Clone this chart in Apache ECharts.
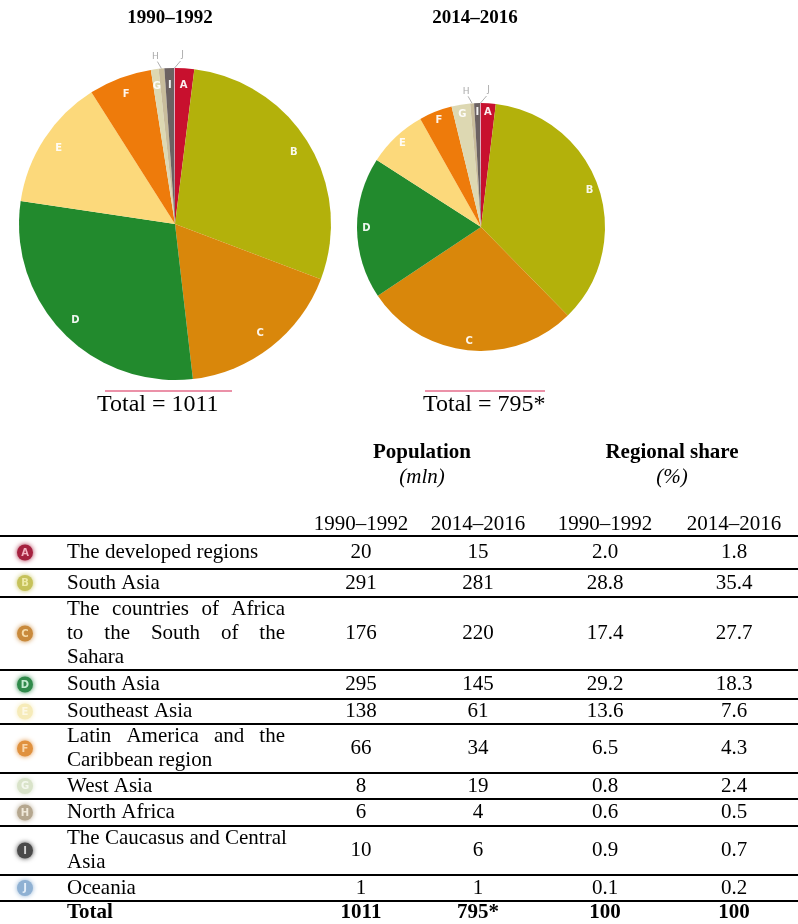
<!DOCTYPE html>
<html>
<head>
<meta charset="utf-8">
<script src="https://cdn.jsdelivr.net/npm/echarts@6/dist/echarts.min.js"></script>
<style>
  html, body { margin: 0; padding: 0; background: #fff; }
  #main { width: 798px; height: 924px; }
</style>
</head>
<body>
<div id="main"></div>
<script>
// data
const letters = ['A', 'B', 'C', 'D', 'E', 'F', 'G', 'H', 'I', 'J'];
const regions = [
  'The developed regions',
  'South Asia',
  'The countries of Africa\nto the South of the\nSahara',
  'South Asia',
  'Southeast Asia',
  'Latin America and the\nCaribbean region',
  'West Asia',
  'North Africa',
  'The Caucasus and Central\nAsia',
  'Oceania'
];
const pop1990 = [20, 291, 176, 295, 138, 66, 8, 6, 10, 1];
const pop2014 = [15, 281, 220, 145, 61, 34, 19, 4, 6, 1];
const share1990 = ['2.0', '28.8', '17.4', '29.2', '13.6', '6.5', '0.8', '0.6', '0.9', '0.1'];
const share2014 = ['1.8', '35.4', '27.7', '18.3', '7.6', '4.3', '2.4', '0.5', '0.7', '0.2'];
const periods = ['1990–1992', '2014–2016'];
const pieTotals = ['Total = 1011', 'Total = 795*'];
const totalRow = ['1011', '795*', '100', '100'];

const sliceColors = ['#c8102e', '#b3b10b', '#d9870b', '#228a2d', '#fcd97b', '#ee7b0b', '#ddd8b2', '#c9bd9c', '#6c6262', '#e2a3bd'];
const iconColors = ['#a5213f', '#c6c25a', '#c98a3c', '#2f8a4a', '#f6ebb9', '#e0913e', '#d9e3c9', '#b5a78f', '#4a4a4a', '#8fb1d3'];
const iconInk = ['#f4b0c0', '#eeeaa8', '#f6dcaa', '#c4ecd0', '#fdf8e4', '#f9d6aa', '#f4f8ee', '#efe8d8', '#d6d6d6', '#e6f0fa'];

const SERIF = '"Liberation Serif", "Times New Roman", serif';
const chart = echarts.init(document.getElementById('main'));

const ctx = document.createElement('canvas').getContext('2d');
function textWidth(s, font) { ctx.font = font; return ctx.measureText(s).width; }
function font(size, weight, style) {
  return (style || 'normal') + ' ' + (weight || 'normal') + ' ' + size + 'px ' + SERIF;
}
function txt(x, y, text, f, align, color) {
  return {
    type: 'text', x: x, y: y, silent: true,
    style: {
      text: text, font: f, fill: color || '#000',
      align: align || 'center', verticalAlign: 'middle',
      textAlign: align || 'center', textVerticalAlign: 'middle'
    }
  };
}

// callout offsets for the two thin slices H and J (label centre, line end)
const callouts = { 7: { label: [-6, -12], line: [-4, -7] }, 9: { label: [8, -13], line: [6, -7] } };

// pies
function pieSeries(values, center, r, labelRatio) {
  const fill = values.map((v, i) => ({ name: letters[i], value: v, itemStyle: { color: sliceColors[i] } }));
  const labels = values.map((v, i) => {
    const item = { name: letters[i], value: v };
    if (callouts[i]) {
      item.label = { position: 'outside', color: '#a9a9a9', fontWeight: 'normal', fontSize: 9 };
      item.labelLine = { show: true, length: 11, length2: 0, lineStyle: { color: '#b0b0b0', width: 1 } };
    }
    return item;
  });
  return [
    {
      type: 'pie', center: center, radius: [0, r], startAngle: 90, clockwise: true,
      silent: true, animation: false, label: { show: false }, labelLine: { show: false },
      itemStyle: { borderWidth: 0 }, data: fill
    },
    {
      type: 'pie', center: center, radius: [r * labelRatio, r], startAngle: 90, clockwise: true,
      silent: true, animation: false, avoidLabelOverlap: false,
      itemStyle: { color: 'rgba(0,0,0,0)' },
      label: {
        show: true, position: 'inside', color: 'rgba(255,255,255,0.92)',
        fontFamily: '"DejaVu Sans", sans-serif', fontSize: 10, fontWeight: 'bold',
        formatter: p => p.name
      },
      labelLine: { show: false },
      labelLayout: function (p) {
        const c = callouts[p.dataIndex];
        if (!c || !p.labelLinePoints) return;
        const p0 = p.labelLinePoints[0];
        const end = [p0[0] + c.line[0], p0[1] + c.line[1]];
        return {
          x: p0[0] + c.label[0], y: p0[1] + c.label[1],
          align: 'center', verticalAlign: 'middle',
          labelLinePoints: [p0, end, end]
        };
      },
      data: labels
    }
  ];
}

// table
const rowEdges = [536, 569, 597, 670, 699, 724, 773, 799, 826, 875, 901];
const colX = [361, 478, 605, 734];
const labelX = 67, labelRight = 285, lineH = 24;
const cellFont = font(21);
const boldFont = font(21, 'bold');

const g = [];
// pie titles and totals
g.push(txt(170, 18, periods[0], font(19, 'bold')));
g.push(txt(475, 18, periods[1], font(19, 'bold')));
g.push({ type: 'line', silent: true, shape: { x1: 105, y1: 391, x2: 232, y2: 391 }, style: { stroke: '#e46d8b', lineWidth: 1.5 } });
g.push({ type: 'line', silent: true, shape: { x1: 425, y1: 391, x2: 545, y2: 391 }, style: { stroke: '#e46d8b', lineWidth: 1.5 } });
g.push(txt(97, 405, pieTotals[0], font(24), 'left'));
g.push(txt(423, 405, pieTotals[1], font(24), 'left'));

// column headers
g.push(txt(422, 453, 'Population', boldFont));
g.push(txt(422, 477, '(mln)', font(21, 'normal', 'italic')));
g.push(txt(672, 453, 'Regional share', boldFont));
g.push(txt(672, 477, '(%)', font(21, 'normal', 'italic')));
[periods[0], periods[1], periods[0], periods[1]].forEach((p, j) => g.push(txt(colX[j], 524, p, cellFont)));

// rule lines
rowEdges.forEach(y => g.push({ type: 'line', silent: true, shape: { x1: 0, y1: y, x2: 798, y2: y }, style: { stroke: '#000', lineWidth: 2 } }));

regions.forEach((name, i) => {
  const yc = (rowEdges[i] + rowEdges[i + 1]) / 2;
  // icon
  g.push({
    type: 'circle', silent: true, shape: { cx: 25, cy: yc, r: 8 },
    style: { fill: iconColors[i], shadowBlur: 5, shadowColor: iconColors[i] }
  });
  g.push(txt(25, yc + 0.5, letters[i], 'bold 10px "DejaVu Sans", sans-serif', 'center', iconInk[i]));
  // name, justified like the source table
  const lines = name.split('\n');
  const y0 = yc - (lines.length - 1) * lineH / 2;
  lines.forEach((line, k) => {
    const y = y0 + k * lineH;
    const words = line.split(' ');
    const natural = textWidth(line, cellFont);
    if (k === lines.length - 1 || words.length < 2 || natural >= labelRight - labelX) {
      g.push(txt(labelX, y, line, cellFont, 'left'));
    } else {
      const ws = words.map(w => textWidth(w, cellFont));
      const gap = (labelRight - labelX - ws.reduce((a, b) => a + b, 0)) / (words.length - 1);
      let x = labelX;
      words.forEach((w, m) => { g.push(txt(x, y, w, cellFont, 'left')); x += ws[m] + gap; });
    }
  });
  [String(pop1990[i]), String(pop2014[i]), share1990[i], share2014[i]].forEach((v, j) => g.push(txt(colX[j], yc, v, cellFont)));
});
g.push(txt(labelX, 913, 'Total', boldFont, 'left'));
totalRow.forEach((v, j) => g.push(txt(colX[j], 913, v, boldFont)));

chart.setOption({
  backgroundColor: '#fff',
  animation: false,
  series: [].concat(
    pieSeries(pop1990, [175, 224], 156, 0.74),
    pieSeries(pop2014, [481, 227], 124, 0.8)
  ),
  graphic: { elements: g }
});
</script>
</body>
</html>
